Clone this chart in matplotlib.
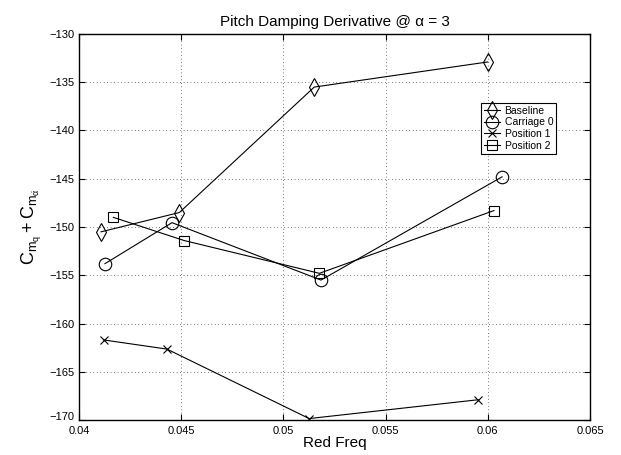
import matplotlib
matplotlib.use("Agg")
import matplotlib.pyplot as plt
import matplotlib.transforms as mtransforms

plt.rcParams['font.family'] = ['Liberation Sans', 'DejaVu Sans']
plt.rcParams['mathtext.fontset'] = 'custom'
plt.rcParams['mathtext.rm'] = 'Liberation Sans'
plt.rcParams['mathtext.it'] = 'Liberation Sans'

# data
baseline_x = [0.04108, 0.04491, 0.05151, 0.05999]
baseline_y = [-150.5, -148.5, -135.5, -132.9]
carriage_x = [0.04127, 0.04455, 0.05184, 0.0607]
carriage_y = [-153.8, -149.55, -155.5, -144.8]
pos1_x = [0.0412, 0.0443, 0.05126, 0.05953]
pos1_y = [-161.7, -162.65, -169.85, -167.9]
pos2_x = [0.04168, 0.04514, 0.05176, 0.0603]
pos2_y = [-149.0, -151.4, -154.8, -148.3]

fig = plt.figure(figsize=(6.21, 4.55), dpi=100)
ax = fig.add_axes([0.1272, 0.0769, 0.8229, 0.8484])

ax.plot(baseline_x, baseline_y, color='k', lw=0.8, marker='d', ms=9,
        mfc='none', mec='k', mew=0.8, label='Baseline')
ax.plot(carriage_x, carriage_y, color='k', lw=0.8, marker='o', ms=9,
        mfc='none', mec='k', mew=0.8, label='Carriage 0')
ax.plot(pos1_x, pos1_y, color='k', lw=0.8, marker='x', ms=6,
        mec='k', mew=0.8, label='Position 1')
ax.plot(pos2_x, pos2_y, color='k', lw=0.8, marker='s', ms=6.5,
        mfc='none', mec='k', mew=0.8, label='Position 2')

ax.set_xlim(0.04, 0.065)
ax.set_ylim(-170, -130)
ax.set_xticks([0.04, 0.045, 0.05, 0.055, 0.06, 0.065])
ax.set_xticklabels(['0.04', '0.045', '0.05', '0.055', '0.06', '0.065'])
ax.set_yticks(range(-170, -129, 5))
ax.set_yticklabels(['\u2212%d' % abs(v) for v in range(-170, -129, 5)])
ax.tick_params(direction='in', top=True, right=True, labelsize=8, length=4,
               width=0.8)
ax.tick_params(axis='x', pad=4)
ax.tick_params(axis='y', pad=3)
# nudge the lowest y label up a touch so it clears 0.04
lab = ax.get_yticklabels()[0]
lab.set_transform(lab.get_transform() +
                  mtransforms.ScaledTranslation(0, 3 / 72, fig.dpi_scale_trans))
for s in ax.spines.values():
    s.set_linewidth(1.0)
ax.grid(True, color='k', ls=(0, (1, 4)), lw=0.5)

ax.set_title('Pitch Damping Derivative @ \u03b1 = 3', fontsize=11, pad=6)
ax.set_xlabel('Red Freq', fontsize=11, labelpad=0)
ax.set_ylabel(r'$\mathregular{C_{m_q} + C_{m_{\dot{\alpha}}}}$', fontsize=13, labelpad=4)

leg = ax.legend(loc='upper left', bbox_to_anchor=(0.786, 0.822), fontsize=7.5,
                frameon=True, fancybox=False, edgecolor='k', framealpha=1,
                borderpad=0.3, labelspacing=0.15, handlelength=1.6,
                handletextpad=0.4, borderaxespad=0)
leg.get_frame().set_linewidth(0.8)

fig.savefig('out.png', dpi=100)
